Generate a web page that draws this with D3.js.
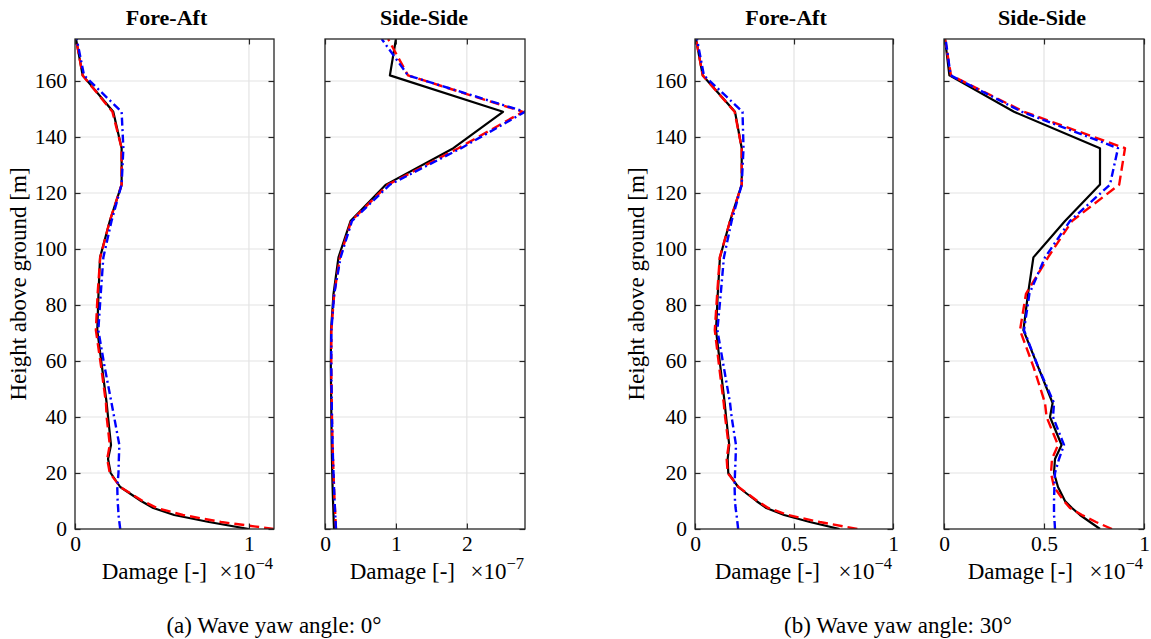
<!DOCTYPE html>
<html><head><meta charset="utf-8">
<script src="https://cdn.jsdelivr.net/npm/d3@7"></script>
<style>
body{margin:0;background:#fff;}
text{font-family:"Liberation Serif","Times New Roman",serif;fill:#000;}
</style></head>
<body><svg id="c" width="1151" height="639"></svg>
<script>
// Heights above ground [m]
const heights = [0, 2.5, 5, 7.5, 10, 15, 20, 25, 30, 40, 45, 58, 71, 84, 97, 110, 123, 136, 149, 162, 175];

// (a) Wave yaw 0 deg — Fore-Aft (x1e-4)
const faA_black = [1.0, 0.77, 0.57, 0.45, 0.38, 0.26, 0.205, 0.19, 0.207, 0.19, 0.182, 0.155, 0.128, 0.135, 0.144, 0.20, 0.268, 0.268, 0.22, 0.044, 0.006];
const faA_red   = [1.144, 0.84, 0.62, 0.47, 0.39, 0.26, 0.20, 0.185, 0.20, 0.182, 0.178, 0.15, 0.12, 0.13, 0.145, 0.20, 0.268, 0.268, 0.215, 0.044, 0.006];
const faA_blue  = [0.26, 0.255, 0.25, 0.248, 0.245, 0.243, 0.25, 0.252, 0.255, 0.225, 0.21, 0.17, 0.134, 0.148, 0.163, 0.21, 0.268, 0.278, 0.268, 0.052, 0.01];
// (a) Side-Side (x1e-7)
const ssA_black = [0.127, 0.123, 0.12, 0.117, 0.113, 0.107, 0.102, 0.098, 0.095, 0.09, 0.088, 0.082, 0.085, 0.12, 0.19, 0.36, 0.86, 1.81, 2.51, 0.915, 1.0];
const ssA_red   = [0.155, 0.15, 0.145, 0.14, 0.135, 0.127, 0.12, 0.113, 0.107, 0.098, 0.095, 0.088, 0.09, 0.13, 0.21, 0.37, 0.89, 1.88, 2.79, 1.17, 0.89];
const ssA_blue  = [0.155, 0.15, 0.145, 0.14, 0.135, 0.127, 0.12, 0.113, 0.107, 0.098, 0.095, 0.088, 0.09, 0.13, 0.22, 0.38, 0.915, 1.92, 2.82, 1.17, 0.80];
// (b) Wave yaw 30 deg — Fore-Aft (x1e-4)
const faB_black = [0.73, 0.58, 0.45, 0.36, 0.31, 0.218, 0.168, 0.165, 0.173, 0.157, 0.15, 0.128, 0.106, 0.115, 0.126, 0.177, 0.236, 0.236, 0.202, 0.039, 0.005];
const faB_red   = [0.82, 0.63, 0.47, 0.37, 0.315, 0.22, 0.165, 0.16, 0.17, 0.152, 0.145, 0.122, 0.10, 0.112, 0.125, 0.177, 0.236, 0.236, 0.20, 0.039, 0.005];
const faB_blue  = [0.218, 0.214, 0.21, 0.205, 0.202, 0.20, 0.202, 0.205, 0.207, 0.185, 0.177, 0.145, 0.113, 0.13, 0.146, 0.185, 0.236, 0.245, 0.24, 0.045, 0.01];
// (b) Side-Side (x1e-4)
const ssB_black = [0.78, 0.73, 0.68, 0.64, 0.605, 0.57, 0.55, 0.555, 0.588, 0.53, 0.543, 0.47, 0.397, 0.42, 0.447, 0.605, 0.78, 0.78, 0.35, 0.027, 0.005];
const ssB_red   = [0.84, 0.76, 0.69, 0.63, 0.60, 0.55, 0.535, 0.54, 0.57, 0.513, 0.505, 0.447, 0.38, 0.41, 0.52, 0.64, 0.876, 0.905, 0.40, 0.035, 0.005];
const ssB_blue  = [0.555, 0.553, 0.55, 0.55, 0.55, 0.552, 0.555, 0.575, 0.60, 0.545, 0.55, 0.47, 0.40, 0.427, 0.505, 0.63, 0.83, 0.87, 0.39, 0.033, 0.008];

const yTicks = [0, 20, 40, 60, 80, 100, 120, 140, 160];
const titles = ["Fore-Aft", "Side-Side", "Fore-Aft", "Side-Side"];
const xTicksList = [[0, 1], [0, 1, 2], [0, 0.5, 1], [0, 0.5, 1]];
const xMaxList = [1.144, 2.82, 1, 1];
const exponents = ["\u22124", "\u22127", "\u22124", "\u22124"];
const captions = ["(a) Wave yaw angle: 0\u00b0", "(b) Wave yaw angle: 30\u00b0"];
const yLabel = "Height above ground [m]";
const xLabel = "Damage [-]";

const panelData = [
  [faA_black, faA_red, faA_blue],
  [ssA_black, ssA_red, ssA_blue],
  [faB_black, faB_red, faB_blue],
  [ssB_black, ssB_red, ssB_blue]
];

// layout
const boxes = [
  {l: 75, r: 274}, {l: 325, r: 525}, {l: 695, r: 893}, {l: 944, r: 1144}
];
const plotTop = 39, plotBottom = 529;
const labelGap = [67, 70, 73, 71];
const titleShift = [-8, -1, -8, -2];
const styles = [
  {color: "#000000", dash: null, w: 2.2},
  {color: "#ff0000", dash: "10,5", w: 2.4},
  {color: "#0000ff", dash: "8,3.5,2,3.5", w: 2.4}
];
const FS_TICK = 21.5, FS_LABEL = 23, FS_TITLE = 22, FS_CAP = 23;

const svg = d3.select("#c");
svg.append("rect").attr("width", 1151).attr("height", 639).attr("fill", "#fff");

const y = d3.scaleLinear().domain([0, 175]).range([plotBottom, plotTop]);

boxes.forEach((b, i) => {
  const x = d3.scaleLinear().domain([0, xMaxList[i]]).range([b.l, b.r]);
  const g = svg.append("g");
  const clipId = "clip" + i;
  svg.append("clipPath").attr("id", clipId).append("rect")
    .attr("x", b.l).attr("y", plotTop).attr("width", b.r - b.l).attr("height", plotBottom - plotTop);

  // grid
  g.append("g").selectAll("line").data(yTicks.filter(t => t > 0)).join("line")
    .attr("x1", b.l).attr("x2", b.r).attr("y1", d => y(d)).attr("y2", d => y(d))
    .attr("stroke", "#e3e3e3").attr("stroke-width", 1.2);
  g.append("g").selectAll("line").data(xTicksList[i].filter(t => t > 0 && t < xMaxList[i])).join("line")
    .attr("x1", d => x(d)).attr("x2", d => x(d)).attr("y1", plotTop).attr("y2", plotBottom)
    .attr("stroke", "#e3e3e3").attr("stroke-width", 1.2);

  // lines
  const lg = g.append("g").attr("clip-path", `url(#${clipId})`);
  panelData[i].forEach((vals, k) => {
    const pts = heights.map((h, j) => [vals[j], h]);
    const line = d3.line().x(d => x(d[0])).y(d => y(d[1]));
    const p = lg.append("path").datum(pts).attr("d", line)
      .attr("fill", "none").attr("stroke", styles[k].color)
      .attr("stroke-width", styles[k].w).attr("stroke-linejoin", "round");
    if (styles[k].dash) p.attr("stroke-dasharray", styles[k].dash);
  });

  // axes with inner ticks
  const tl = 5.5;
  const axL = d3.axisLeft(y).tickValues(yTicks).tickSizeInner(-tl).tickSizeOuter(0)
    .tickFormat(i % 2 === 0 ? d3.format("d") : () => "").tickPadding(8);
  const axR = d3.axisRight(y).tickValues(yTicks).tickSizeInner(-tl).tickSizeOuter(0).tickFormat(() => "");
  const fmt = v => (v === 0.5 ? "0.5" : d3.format("d")(v));
  const axB = d3.axisBottom(x).tickValues(xTicksList[i]).tickSizeInner(-tl).tickSizeOuter(0)
    .tickFormat(fmt).tickPadding(7);
  const axT = d3.axisTop(x).tickValues(xTicksList[i]).tickSizeInner(-tl).tickSizeOuter(0).tickFormat(() => "");
  const styleAx = s => {
    s.attr("font-family", null).attr("font-size", null);
    s.select(".domain").remove();
    s.selectAll(".tick line").attr("stroke", "#262626").attr("stroke-width", 1.2);
    s.selectAll(".tick text").style("font-family", "'Liberation Serif', serif").style("font-size", FS_TICK + "px").attr("fill", "#000");
  };
  g.append("g").attr("transform", `translate(${b.l},0)`).call(axL).call(styleAx);
  g.append("g").attr("transform", `translate(${b.r},0)`).call(axR).call(styleAx);
  g.append("g").attr("transform", `translate(0,${plotBottom})`).call(axB).call(styleAx);
  g.append("g").attr("transform", `translate(0,${plotTop})`).call(axT).call(styleAx);

  // box
  g.append("rect").attr("x", b.l).attr("y", plotTop).attr("width", b.r - b.l).attr("height", plotBottom - plotTop)
    .attr("fill", "none").attr("stroke", "#262626").attr("stroke-width", 1.3);

  // title
  g.append("text").attr("x", (b.l + b.r) / 2 + titleShift[i]).attr("y", 25).attr("text-anchor", "middle")
    .attr("font-weight", "bold").attr("font-size", FS_TITLE).text(titles[i]);

  // x label
  g.append("text").attr("x", b.r - labelGap[i]).attr("y", 579).attr("text-anchor", "end")
    .attr("font-size", FS_LABEL).text(xLabel);
  const ex = g.append("text").attr("x", b.r - 1).attr("y", 579).attr("text-anchor", "end")
    .attr("font-size", FS_LABEL);
  ex.append("tspan").text("\u00d710");
  ex.append("tspan").attr("dy", -10).attr("font-size", FS_LABEL * 0.72).text(exponents[i]);
});

// y labels
[21, 639].forEach(cx => {
  svg.append("text").attr("transform", `translate(${cx},${(plotTop + plotBottom) / 2}) rotate(-90)`)
    .attr("text-anchor", "middle").attr("dominant-baseline", "middle").attr("font-size", FS_LABEL).text(yLabel);
});

// captions
[[274, captions[0]], [898, captions[1]]].forEach(([cx, t]) => {
  svg.append("text").attr("x", cx).attr("y", 633).attr("text-anchor", "middle")
    .attr("font-size", FS_CAP).text(t);
});
</script></body></html>
